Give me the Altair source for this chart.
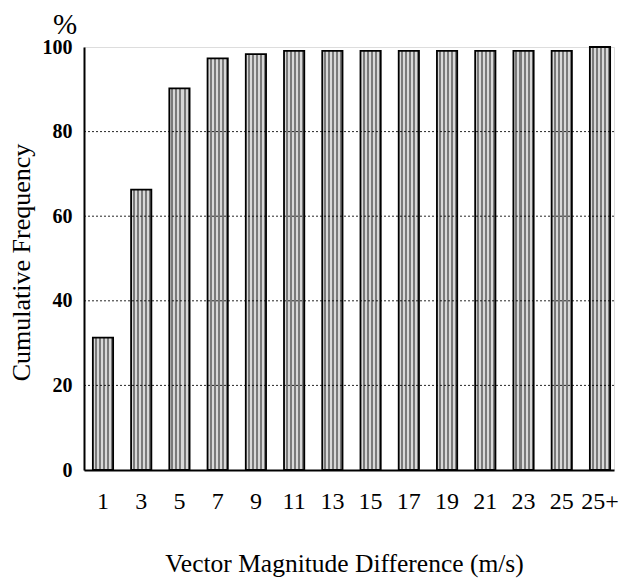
import altair as alt
import pandas as pd

categories = ["1", "3", "5", "7", "9", "11", "13", "15", "17", "19", "21", "23", "25", "25+"]
values = [31.3, 66.3, 90.2, 97.3, 98.3, 99.1, 99.1, 99.1, 99.1, 99.1, 99.1, 99.1, 99.1, 100.0]
y_ticks = [0, 20, 40, 60, 80, 100]
grid_vals = [20, 40, 60, 80]

df = pd.DataFrame({"cat": categories, "val": values})

W, H = 530, 423

# striped fill to imitate the dotted screen pattern of the original
stops = []
n_stripes = 5
for i in range(n_stripes):
    a = i / n_stripes
    b = (i + 0.5) / n_stripes
    c = (i + 1) / n_stripes
    stops += [alt.GradientStop(offset=a, color="#d8d8d8"),
              alt.GradientStop(offset=b, color="#d8d8d8"),
              alt.GradientStop(offset=b, color="#7a7a7a"),
              alt.GradientStop(offset=c, color="#7a7a7a")]
fill = alt.Gradient(gradient="linear", stops=stops, x1=0, x2=1, y1=0, y2=0)

bars = alt.Chart(df).mark_bar(
    fill=fill, stroke="black", strokeWidth=1.8
).encode(
    x=alt.X("cat:N", sort=categories,
            scale=alt.Scale(paddingInner=0.47, paddingOuter=0.1665, align=0.696),
            axis=alt.Axis(title="Vector Magnitude Difference (m/s)", labelAngle=0,
                          ticks=False, tickSize=0, domain=True, domainColor="black", domainWidth=2,
                          labelFont="Liberation Serif", labelFontSize=24, labelColor="black",
                          labelBaseline="alphabetic", labelPadding=38,
                          titleFont="Liberation Serif", titleFontSize=25.5, titleFontWeight="normal",
                          titleColor="black", titleX=260, titleY=101,
                          titleBaseline="alphabetic", titleAlign="center")),
    y=alt.Y("val:Q", scale=alt.Scale(domain=[0, 100], nice=False),
            axis=alt.Axis(title="Cumulative Frequency", values=y_ticks, ticks=False, tickSize=0,
                          domain=True, domainColor="black", domainWidth=2, grid=False,
                          labelFont="Liberation Sans Narrow", labelFontWeight="bold",
                          labelFontSize=20, labelColor="black", labelPadding=12,
                          titleFont="Liberation Serif", titleFontSize=26, titleFontWeight="normal",
                          titleColor="black", titleX=-55, titleY=215,
                          titleBaseline="alphabetic", titleAlign="center")),
)

grid = alt.Chart(pd.DataFrame({"g": grid_vals})).mark_rule(
    color="black", strokeDash=[2, 2], strokeWidth=1, opacity=0.85
).encode(y="g:Q")

pct = alt.Chart(pd.DataFrame({"t": ["%"]})).mark_text(
    fontSize=29, font="Liberation Serif", color="black", align="center", baseline="alphabetic"
).encode(x=alt.value(-19), y=alt.value(-13), text="t:N")

chart = alt.layer(bars, grid, pct).properties(
    width=W, height=H,
    autosize=alt.AutoSizeParams(type="none"),
    padding={"left": 76, "top": 39, "right": 6, "bottom": 108},
).configure_view(stroke="black", strokeWidth=1.8).configure(background="white")

chart.save("out.html", embed_options={"renderer": "svg", "actions": False})
